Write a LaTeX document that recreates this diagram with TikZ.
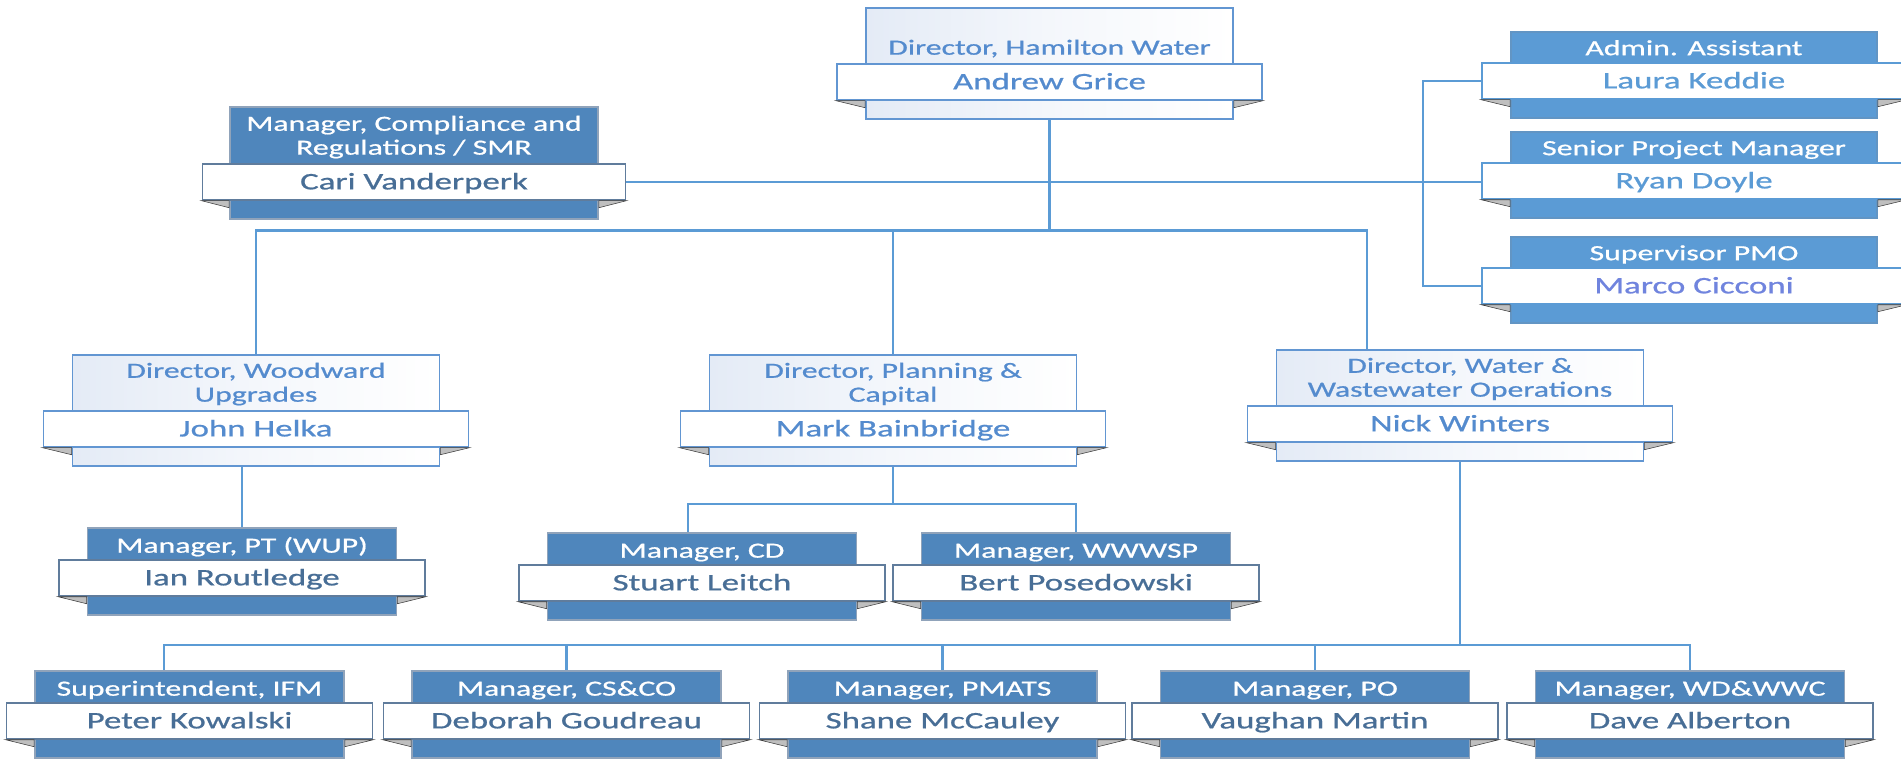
\documentclass[tikz,border=0pt]{standalone}
\usepackage{fontspec}
\setmainfont{Carlito}[FakeStretch=1.47, FakeBold=0.8]

\definecolor{linkblue}{RGB}{91,155,213}
\definecolor{dirline}{RGB}{98,150,210}
\definecolor{dirtext}{RGB}{84,139,206}
\definecolor{dirtint}{RGB}{228,235,246}
\definecolor{mgrfill}{RGB}{79,134,188}
\definecolor{mgredge}{RGB}{96,124,156}
\definecolor{mgrtext}{RGB}{72,110,150}
\definecolor{aidefill}{RGB}{91,155,213}
\definecolor{marcotext}{RGB}{112,132,222}

% one position: box, name band, title, folds
\newcommand\orgcard[5]{%
	\node[#2, anchor=north] (#1) at #3 {};
	\node[#2 band, anchor=south] (#1n) at ([yshift=0.38cm]#1.south) {#5};
	\node[#2 title, anchor=south] (#1t) at (#1n.north) {#4\strut};
	\filldraw[fold] (#1n.south west) -- (#1n.south west -| #1.west) -- ++(0,7) -- cycle;
	\filldraw[fold] (#1n.south east) -- (#1n.south east -| #1.east) -- ++(0,7) -- cycle;
}

\begin{document}
\begin{tikzpicture}[x=0.02cm, y=-0.02cm,
	card/.style={rectangle, inner sep=0pt, line width=1pt},
	band/.style={rectangle, fill=white, line width=1pt, minimum height=0.72cm, inner sep=0pt, text height=0.37cm, text depth=0.07cm, font=\fontsize{13.5}{15}\selectfont},
	head/.style={inner sep=0pt, align=center, font=\fontsize{12.3}{13.6}\selectfont},
	dir/.style={card, draw=dirline, left color=dirtint, right color=white, middle color=white!60!dirtint, minimum width=7.34cm, minimum height=2.22cm},
	dir band/.style={band, draw=dirline, text=dirtext, minimum width=8.5cm},
	dir title/.style={head, text=dirtext, yshift=0.016cm},
	smr/.style={card, fill=mgrfill, draw=mgredge!70, minimum width=7.36cm, minimum height=2.24cm},
	smr band/.style={band, draw=mgredge, text=mgrtext, minimum width=8.46cm},
	smr title/.style={head, text=white, yshift=0.016cm},
	mgr/.style={card, fill=mgrfill, draw=mgredge!70, minimum width=6.18cm, minimum height=1.74cm},
	mgr band/.style={band, draw=mgredge, text=mgrtext, minimum width=7.32cm},
	mgr title/.style={head, text=white, yshift=-0.024cm},
	aide/.style={card, fill=aidefill, draw=aidefill!80!gray, minimum width=7.32cm, minimum height=1.72cm},
	aide band/.style={band, draw=aidefill, text=aidefill, minimum width=8.48cm},
	aide title/.style={head, text=white, yshift=-0.014cm},
	fold/.style={fill=gray!50, draw=gray!45!black, line width=0.3pt},
	link/.style={draw=linkblue, line width=1.4pt}]
	\path[use as bounding box, fill=white] (0,0) rectangle (1901,759);

	\orgcard{hw}{dir}{(1049.5,7)}{Director, Hamilton Water}{Andrew Grice}
	\orgcard{cari}{smr}{(414,106)}{Manager, Compliance and\\Regulations / SMR}{Cari Vanderperk}
	\orgcard{laura}{aide}{(1694,31)}{Admin. Assistant}{Laura Keddie}
	\orgcard{ryan}{aide}{(1694,131)}{Senior Project Manager}{Ryan Doyle}
	\orgcard{marco}{aide}{(1694,236)}{Supervisor PMO}{\textcolor{marcotext}{Marco Cicconi}}

	\orgcard{woodward}{dir}{(256,354)}{Director, Woodward\\Upgrades}{John Helka}
	\orgcard{planning}{dir}{(893,354)}{Director, Planning \&\\Capital}{Mark Bainbridge}
	\orgcard{wwop}{dir}{(1460,349)}{Director, Water \&\\Wastewater Operations}{Nick Winters}

	\orgcard{ian}{mgr}{(242,527)}{Manager, PT (WUP)}{Ian Routledge}
	\orgcard{stuart}{mgr}{(702,532)}{Manager, CD}{Stuart Leitch}
	\orgcard{bert}{mgr}{(1076,532)}{Manager, WWWSP}{Bert Posedowski}

	\orgcard{peter}{mgr}{(189.5,670)}{Superintendent, IFM}{Peter Kowalski}
	\orgcard{deborah}{mgr}{(566.5,670)}{Manager, CS\&CO}{Deborah Goudreau}
	\orgcard{shane}{mgr}{(942.5,670)}{Manager, PMATS}{Shane McCauley}
	\orgcard{vaughan}{mgr}{(1315,670)}{Manager, PO}{Vaughan Martin}
	\orgcard{dave}{mgr}{(1690,670)}{Manager, WD\&WWC}{Dave Alberton}

	% reporting lines
	\draw[link] (hw.south) -- ++(0,111) coordinate (topbus);
	\draw[link] (woodward.north) |- (topbus) -| ([xshift=-1.86cm]wwop.north);
	\draw[link] (planning.north) -- (planning.north |- topbus);
	\draw[link] (carin.east) -- (carin.east -| ryann.west);
	\draw[link] (lauran.west) -- ++(-58,0) |- (marcon.west);
	\draw[link] (woodward.south -| ian.north) -- (ian.north);
	\draw[link] (planning.south) -- ++(0,37) coordinate (pcbus);
	\draw[link] ([xshift=-0.28cm]stuart.north) |- (pcbus) -| (bert.north);
	\draw[link] (wwop.south) -- ++(0,183) coordinate (opbus);
	\draw[link] ([xshift=-0.51cm]peter.north) |- (opbus) -| (dave.north);
	\foreach \n in {deborah, shane, vaughan}
		\draw[link] (\n.north) -- (\n.north |- opbus);
\end{tikzpicture}
\end{document}
